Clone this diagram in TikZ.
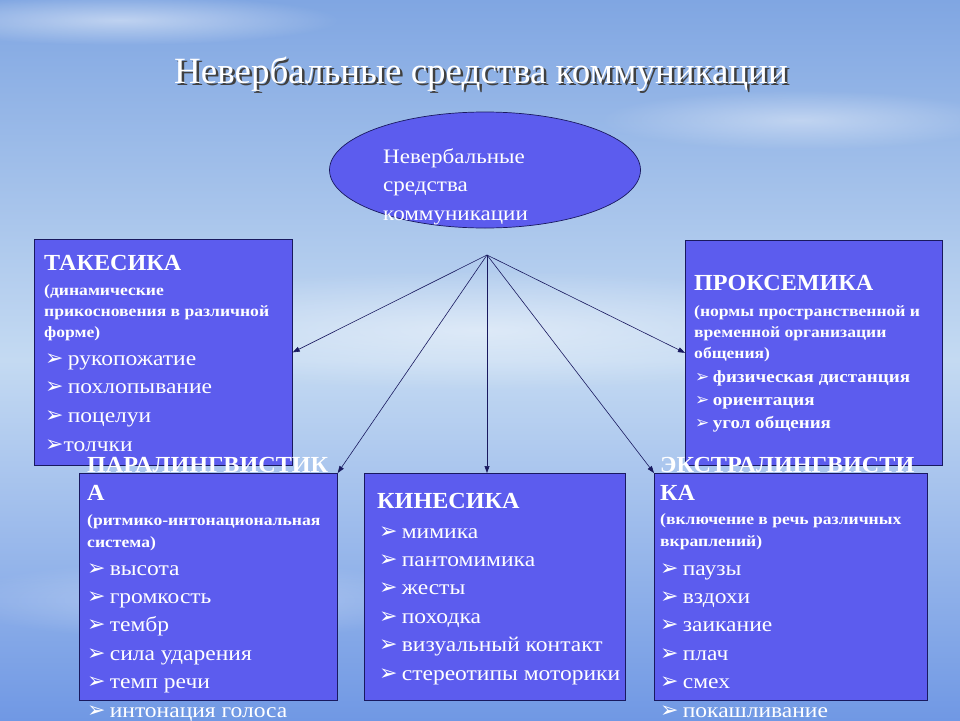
\documentclass[tikz,border=0pt]{standalone}
\usepackage{fontspec}
\setmainfont{Liberation Serif}
\newfontfamily\wideserif[FakeStretch=1.12]{Liberation Serif}
\newfontfamily\headserif[FakeStretch=1.05]{Liberation Serif}
\newfontfamily\arrowfont{DejaVu Sans}
\usetikzlibrary{arrows.meta,shapes.geometric,fadings}
\definecolor{boxblue}{RGB}{92,92,238}
\definecolor{boxline}{RGB}{25,25,95}
\definecolor{skytop}{RGB}{128,166,226}
\definecolor{skymid}{RGB}{196,218,242}
\definecolor{skybot}{RGB}{112,152,228}
\newcommand{\bul}{{\arrowfont\fontsize{22}{22}\selectfont ➢}\hspace{0.2em}}
\tikzfading[name=cloudfade, inner color=transparent!20, outer color=transparent!100]
\tikzset{
  box/.style={draw=boxline, fill=boxblue, line width=0.7pt, inner sep=0pt, anchor=north west},
  txt/.style={anchor=base west, inner sep=0pt, text=white},
  head/.style={txt, font=\headserif\fontsize{23}{23}\selectfont\bfseries},
  note/.style={txt, font=\wideserif\fontsize{15.7}{15.7}\selectfont\bfseries},
  item/.style={txt, font=\wideserif\fontsize{21}{21}\selectfont},
  smallitem/.style={txt, font=\wideserif\fontsize{17}{17}\selectfont\bfseries},
  link/.style={-{Triangle[length=7pt,width=5pt]}, line width=0.6pt, draw=boxline}
}
\begin{document}
\begin{tikzpicture}[x=1pt,y=-1pt]
\useasboundingbox (0,0) rectangle (960,720);
% sky
\shade[top color=skytop, bottom color=skybot, middle color=skymid] (0,0) rectangle (960,720);
\fill[white, path fading=cloudfade, opacity=.6] (120,20) ellipse (220 and 25);
\fill[white, path fading=cloudfade, opacity=.5] (800,120) ellipse (200 and 30);
\fill[white, path fading=cloudfade, opacity=.6] (480,330) ellipse (420 and 60);
\fill[white, path fading=cloudfade, opacity=.4] (200,600) ellipse (250 and 40);
% title
\node[anchor=base, inner sep=0pt, text=black!75, font=\fontsize{37}{37}\selectfont] (title-shadow) at (483.5,85.5) {Невербальные средства коммуникации};
\node[anchor=base, inner sep=0pt, text=white, font=\fontsize{37}{37}\selectfont] (title) at (481,83) {Невербальные средства коммуникации};
% centre
\node[ellipse, draw=boxline, fill=boxblue, line width=0.7pt, minimum width=311, minimum height=116] (centre) at (485,170) {};
\node[item, font=\wideserif\fontsize{20.6}{20.6}\selectfont] (centre-a) at (383,163) {Невербальные};
\node[item, font=\wideserif\fontsize{20.6}{20.6}\selectfont] (centre-b) at (383,191) {средства};
\node[item, font=\wideserif\fontsize{20.6}{20.6}\selectfont] (centre-c) at (383,220) {коммуникации};
\coordinate (hub) at (487,255);
% boxes
\node[box, minimum width=258, minimum height=226] (takes) at (34,239) {};
\node[box, minimum width=257, minimum height=225] (prox) at (685,240) {};
\node[box, minimum width=258, minimum height=227] (para) at (79,473) {};
\node[box, minimum width=261, minimum height=227] (kin) at (364,473) {};
\node[box, minimum width=273, minimum height=227] (extra) at (654,473) {};
% такесика
\node[head] (takes-head) at (44,270) {ТАКЕСИКА};
\foreach \t [count=\i from 0] in {{(динамические}, {прикосновения в различной}, {форме)}}
  \node[note] (takes-note-\i) at (44,295+21*\i) {\t};
\foreach \t [count=\i from 0] in {рукопожатие, похлопывание, поцелуи}
  \node[item] (takes-item-\i) at (45,365+28.7*\i) {\bul\t};
\node[item] (takes-item-3) at (45,451) {{\arrowfont\fontsize{22}{22}\selectfont ➢}толчки};
% проксемика
\node[head] (prox-head) at (694,290) {ПРОКСЕМИКА};
\foreach \t [count=\i from 0] in {{(нормы пространственной и}, {временной организации}, {общения)}}
  \node[note] (prox-note-\i) at (694,316+21*\i) {\t};
\foreach \t [count=\i from 0] in {физическая дистанция, ориентация, угол общения}
  \node[smallitem] (prox-item-\i) at (695,382+23.3*\i) {{\arrowfont\fontsize{17}{17}\selectfont ➢}\hspace{0.2em}\t};
% паралингвистика
\node[head] (para-head) at (87,472) {ПАРАЛИНГВИСТИК};
\node[head] (para-head-b) at (87,500) {А};
\foreach \t [count=\i from 0] in {{(ритмико-интонациональная}, {система)}}
  \node[note] (para-note-\i) at (87,525+22*\i) {\t};
\foreach \t [count=\i from 0] in {высота, громкость, тембр, сила ударения, темп речи, интонация голоса}
  \node[item] (para-item-\i) at (87,575+28.4*\i) {\bul\t};
% кинесика
\node[head] (kin-head) at (377,508) {КИНЕСИКА};
\foreach \t [count=\i from 0] in {мимика, пантомимика, жесты, походка, визуальный контакт, стереотипы моторики}
  \node[item] (kin-item-\i) at (379,538+28.4*\i) {\bul\t};
% экстралингвистика
\node[head] (extra-head) at (660,472) {ЭКСТРАЛИНГВИСТИ};
\node[head] (extra-head-b) at (660,500) {КА};
\foreach \t [count=\i from 0] in {{(включение в речь различных}, {вкраплений)}}
  \node[note] (extra-note-\i) at (660,524+22*\i) {\t};
\foreach \t [count=\i from 0] in {паузы, вздохи, заикание, плач, смех, покашливание}
  \node[item] (extra-item-\i) at (660,575+28.4*\i) {\bul\t};
% arrows
\draw[link] (hub) -- (takes.east);
\draw[link] (hub) -- (para.north east);
\draw[link] (hub) -- (hub |- kin.north);
\draw[link] (hub) -- (extra.north west);
\draw[link] (hub) -- (prox.west);
\end{tikzpicture}
\end{document}
